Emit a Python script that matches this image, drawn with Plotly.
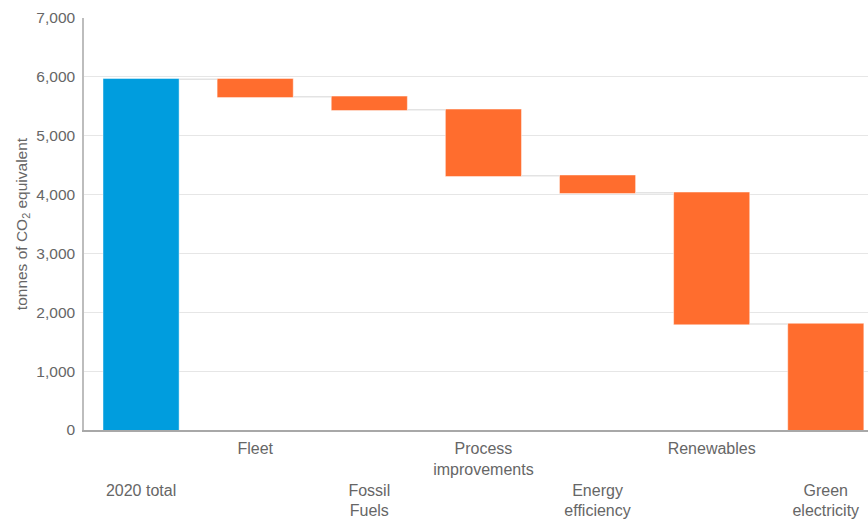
import plotly.graph_objects as go

categories = ["2020 total", "Fleet", "Fossil Fuels", "Process improvements",
              "Energy efficiency", "Renewables", "Green electricity"]
tick_labels = ["<br><br>2020 total", "Fleet", "<br><br>Fossil<br>Fuels",
               "Process<br>improvements", "<br><br>Energy<br>efficiency",
               "Renewables", "<br><br>Green<br>electricity"]
values = [5960, -300, -220, -1120, -290, -2230, -1800]
measures = ["absolute", "relative", "relative", "relative", "relative", "relative", "relative"]

BLUE = "#009DDE"
ORANGE = "#FF6D2E"
TEXT = "#666666"

fig = go.Figure(go.Waterfall(
    x=categories,
    y=values,
    measure=measures,
    totals=dict(marker=dict(color=BLUE, line=dict(color="rgba(255,255,255,0.45)", width=1))),
    decreasing=dict(marker=dict(color=ORANGE, line=dict(color="rgba(255,255,255,0.45)", width=1))),
    increasing=dict(marker=dict(color=ORANGE, line=dict(color="rgba(255,255,255,0.45)", width=1))),
    connector=dict(mode="between", line=dict(color="#e3e3e3", width=1.5)),
    hoverinfo="x+y",
))

fig.update_layout(
    width=868, height=520,
    margin=dict(l=84, r=0, t=18, b=90),
    paper_bgcolor="white", plot_bgcolor="white",
    font=dict(family="Liberation Sans, Arial, sans-serif", color=TEXT),
    waterfallgap=0.333,
    showlegend=False,
    xaxis=dict(
        type="category",
        categoryorder="array", categoryarray=categories,
        tickmode="array", tickvals=categories, ticktext=tick_labels,
        range=[-0.5, 6.37],
        showline=True, linecolor="#a8a8a8", linewidth=1.5,
        showgrid=False, ticks="",
        tickfont=dict(size=16, color=TEXT),
        ticklabelstandoff=3,
        automargin=False,
    ),
    yaxis=dict(
        range=[0, 7000], dtick=1000, tickformat=",",
        showline=True, linecolor="#bdbdbd", linewidth=1.5,
        gridcolor="#e6e6e6", gridwidth=1,
        zeroline=False, ticks="",
        tickfont=dict(size=15.5, color=TEXT),
        ticklabelstandoff=4,
        automargin=False,
        title=dict(text="tonnes of CO<sub>2</sub> equivalent",
                   font=dict(size=15.5, color=TEXT), standoff=5),
    ),
)

fig.write_html("out.html")
